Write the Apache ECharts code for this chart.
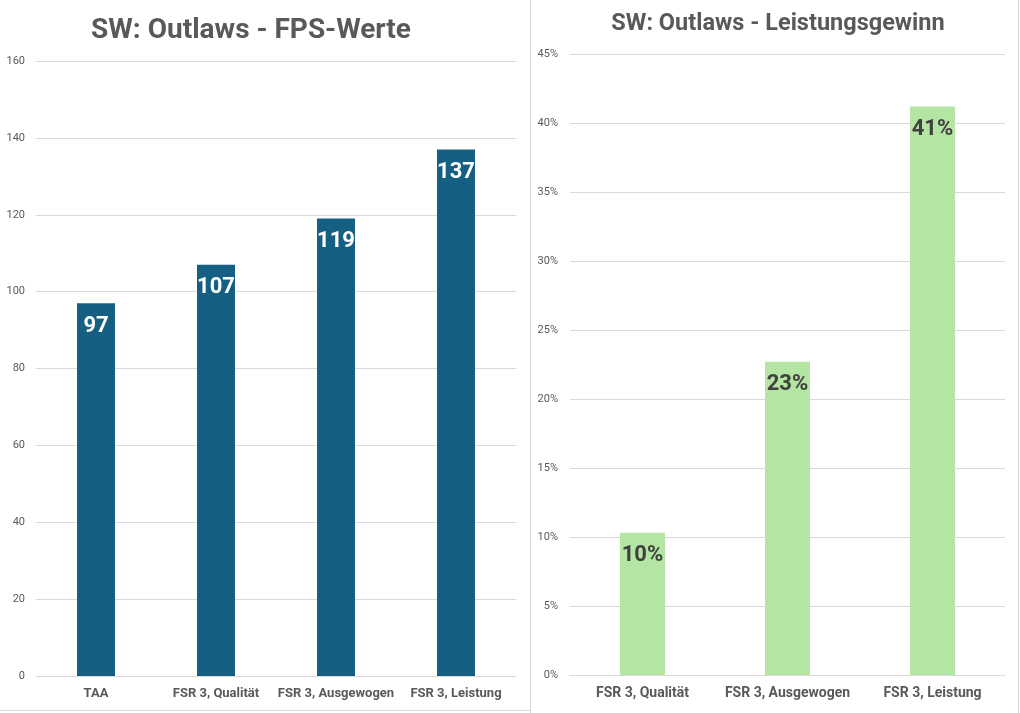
<!DOCTYPE html>
<html>
<head>
<meta charset="utf-8">
<script src="https://cdn.jsdelivr.net/npm/echarts@6/dist/echarts.min.js"></script>
<style>
html,body{margin:0;padding:0;background:#fff;}
#chart{width:1020px;height:713px;}
</style>
</head>
<body>
<div id="chart"></div>
<script>
const fpsCategories = ['TAA', 'FSR 3, Qualität', 'FSR 3, Ausgewogen', 'FSR 3, Leistung'];
const fpsValues = [97, 107, 119, 137];
const gainCategories = ['FSR 3, Qualität', 'FSR 3, Ausgewogen', 'FSR 3, Leistung'];
const gainValues = [10.3, 22.7, 41.2];
const fpsTicks = { min: 0, max: 160, interval: 20 };
const gainTicks = { min: 0, max: 45, interval: 5 };

const narrow = "'Liberation Sans Narrow', 'Roboto', sans-serif";
const chart = echarts.init(document.getElementById('chart'));
chart.setOption({
  animation: false,
  backgroundColor: '#ffffff',
  title: [
    { text: 'SW: Outlaws - FPS-Werte', left: 246, top: 12, textAlign: 'center',
      textStyle: { fontFamily: 'Roboto', fontWeight: 'bold', fontSize: 28, color: '#595959' } },
    { text: 'SW: Outlaws - Leistungsgewinn', left: 773, top: 7, textAlign: 'center',
      textStyle: { fontFamily: 'Roboto', fontWeight: 'bold', fontSize: 23.5, color: '#595959' } }
  ],
  graphic: [
    { type: 'line', shape: { x1: 530.5, y1: 0, x2: 530.5, y2: 713 }, style: { stroke: '#d9d9d9', lineWidth: 1 } },
    { type: 'line', shape: { x1: 0, y1: 710.5, x2: 530, y2: 710.5 }, style: { stroke: '#d9d9d9', lineWidth: 1 } },
    { type: 'line', shape: { x1: 1018.5, y1: 0, x2: 1018.5, y2: 713 }, style: { stroke: '#d9d9d9', lineWidth: 1 } }
  ],
  grid: [
    { left: 36, right: 504, top: 61, bottom: 37 },
    { left: 570, right: 15, top: 54, bottom: 38 }
  ],
  xAxis: [
    { type: 'category', gridIndex: 0, data: fpsCategories,
      axisLine: { lineStyle: { color: '#d9d9d9' } }, axisTick: { show: false },
      axisLabel: { interval: 0, margin: 11, fontFamily: narrow, fontWeight: 'bold', fontSize: 13, color: '#595959' } },
    { type: 'category', gridIndex: 1, data: gainCategories,
      axisLine: { lineStyle: { color: '#d9d9d9' } }, axisTick: { show: false },
      axisLabel: { interval: 0, margin: 11, fontFamily: narrow, fontWeight: 'bold', fontSize: 14, color: '#595959' } }
  ],
  yAxis: [
    { type: 'value', gridIndex: 0, min: fpsTicks.min, max: fpsTicks.max, interval: fpsTicks.interval,
      axisLine: { show: false }, axisTick: { show: false },
      splitLine: { lineStyle: { color: '#d9d9d9' } },
      axisLabel: { margin: 11, fontFamily: 'Roboto', fontSize: 11, color: '#595959' } },
    { type: 'value', gridIndex: 1, min: gainTicks.min, max: gainTicks.max, interval: gainTicks.interval,
      axisLine: { show: false }, axisTick: { show: false },
      splitLine: { lineStyle: { color: '#d9d9d9' } },
      axisLabel: { margin: 12, fontFamily: 'Roboto', fontSize: 11, color: '#595959', formatter: '{value}%' } }
  ],
  series: [
    { type: 'bar', xAxisIndex: 0, yAxisIndex: 0, data: fpsValues, barWidth: 38,
      itemStyle: { color: '#156082' },
      label: { show: true, position: 'insideTop', distance: 12, fontFamily: 'Roboto', fontWeight: 'bold',
        fontSize: 22, color: '#ffffff' } },
    { type: 'bar', xAxisIndex: 1, yAxisIndex: 1, data: gainValues, barWidth: 45,
      itemStyle: { color: '#b4e5a2' },
      label: { show: true, position: 'insideTop', distance: 12, fontFamily: 'Roboto', fontWeight: 'bold',
        fontSize: 22, color: '#404040', formatter: p => Math.round(p.value) + '%' } }
  ]
});
</script>
</body>
</html>
